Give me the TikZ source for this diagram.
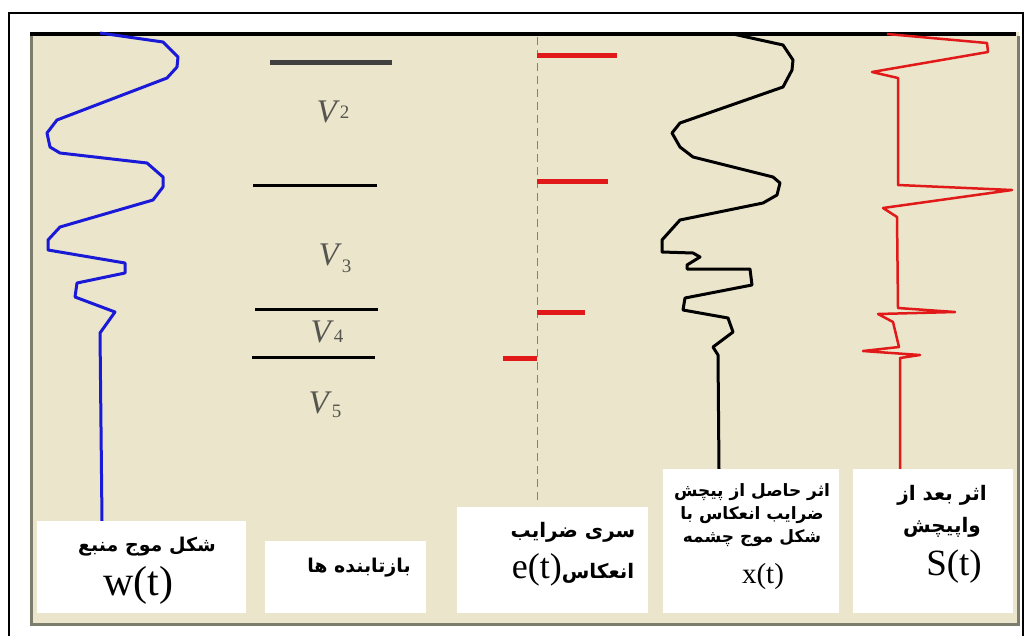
\documentclass[tikz,border=0pt]{standalone}
\usepackage{fontspec}
\setmainfont{Liberation Serif}
\newfontfamily\farsi[Script=Arabic]{DejaVu Sans}
\TeXXeTstate=1
\usetikzlibrary{positioning}
\definecolor{panelbeige}{RGB}{235,229,204}
\definecolor{rimgray}{RGB}{125,125,110}
\definecolor{velgray}{RGB}{85,85,80}
\definecolor{wavblue}{RGB}{25,25,215}
\definecolor{wavred}{RGB}{225,25,25}
\newcommand{\vlay}[2]{\textit{V}\raisebox{#2}{\fontsize{19}{19}\selectfont #1}}
\newcommand{\fa}[1]{\beginR #1\endR}
\begin{document}
\begin{tikzpicture}[x=1pt,y=-1pt,
    trace/.style={line width=3pt,line join=round},
    bar/.style={wavred,line width=5pt},
    layer/.style={line width=3pt},
    vel/.style={velgray,anchor=base,inner sep=0pt,font=\fontsize{33}{33}\selectfont},
    labelbox/.style={fill=white,inner sep=0pt,anchor=north west},
    fatext/.style={align=center,inner sep=0pt,font=\farsi\bfseries\fontsize{18}{23}\selectfont},
    sig/.style={inner sep=0pt}]
\useasboundingbox (0,0) rectangle (1027,635);
% frame and panel
\draw[line width=1.2pt] (9,640) -- (9,13) -- (1023,13) -- (1023,640);
\fill[panelbeige] (30,32) rectangle (1019,625);
\draw[rimgray,line width=3pt] (31,36) -- (31,624) -- (1018,624) -- (1018,36);
\draw[line width=4pt] (30,34) -- (1016,34);
% source wavelet w(t)
\draw[trace,wavblue] (100,33) -- (163,42) -- (178,57) -- (177,67) -- (167,78) -- (57,120)
    -- (47,133) -- (50,147) -- (60,153) -- (147,163) -- (163,177) -- (163,187) -- (153,200)
    -- (60,227) -- (48,240) -- (48,250) -- (125,263) -- (125,273) -- (77,283) -- (75,297)
    -- (115,312) -- (100,333) -- (102,521);
% reflectors
\draw[layer,line width=5pt,black!75] (270,62) -- (392,62);
\draw[layer] (253,185) -- (377,185);
\draw[layer] (255,309) -- (378,309);
\draw[layer] (252,357) -- (375,357);
\node[vel] (v2) at (333,122) {\vlay{2}{4pt}};
\node[vel] (v3) at (335,265) {\vlay{3}{-7pt}};
\node[vel] (v4) at (327,342) {\vlay{4}{0pt}};
\node[vel] (v5) at (325,413) {\vlay{5}{-4pt}};
% reflection series e(t)
\draw[gray,line width=1pt,dash pattern=on 8pt off 5pt] (537,37) -- (537,505);
\draw[bar] (537,55) -- (617,55);
\draw[bar] (537,181) -- (608,181);
\draw[bar] (537,312) -- (585,312);
\draw[bar] (503,358) -- (537,358);
% convolved trace x(t)
\draw[trace] (733,34) -- (783,45) -- (793,60) -- (792,70) -- (783,87) -- (680,123) -- (672,133)
    -- (680,147) -- (693,157) -- (773,177) -- (780,183) -- (777,195) -- (763,203) -- (680,220)
    -- (662,240) -- (662,252) -- (693,253) -- (700,257) -- (687,265) -- (687,269) -- (750,269)
    -- (752,285) -- (685,298) -- (683,310) -- (728,318) -- (733,332) -- (713,347) -- (718,355)
    -- (719,470);
% deconvolved trace S(t)
\draw[trace,wavred,line width=2.5pt] (887,34) -- (987,43) -- (988,52) -- (872,72) -- (898,78)
    -- (898,185) -- (1012,190) -- (883,208) -- (897,217) -- (898,308) -- (955,312) -- (878,314)
    -- (893,322) -- (899,347) -- (863,351) -- (920,355) -- (900,358) -- (900,470);
% label boxes
\node[labelbox,minimum width=209pt,minimum height=92pt] (wbox) at (37,521) {};
\node[labelbox,minimum width=161pt,minimum height=72pt] (rbox) at (265,541) {};
\node[labelbox,minimum width=191pt,minimum height=106pt] (ebox) at (457,507) {};
\node[labelbox,minimum width=176pt,minimum height=144pt] (xbox) at (663,469) {};
\node[labelbox,minimum width=160pt,minimum height=144pt] (sbox) at (853,469) {};
\node[fatext,font=\farsi\bfseries\fontsize{19}{23}\selectfont] (wtitle) at (147,547) {\fa{شکل موج منبع}};
\node[sig,font=\fontsize{42}{42}\selectfont] (wsig) at (138,585) {w(t)};
\node[fatext,font=\farsi\bfseries\fontsize{19}{23}\selectfont] (rtitle) at (359,568) {\fa{بازتابنده ها}};
\node[fatext,font=\farsi\bfseries\fontsize{20}{24}\selectfont] (etitle) at (573,532) {\fa{سری ضرایب}};
\node[sig] (esig) at (573,570) {{\fontsize{36}{36}\selectfont e(t)}{\farsi\bfseries\fontsize{20}{24}\selectfont\fa{انعکاس}}};
\node[fatext,font=\farsi\bfseries\fontsize{17}{23}\selectfont] (xtitle) at (752,515)
    {\fa{اثر حاصل از پیچش}\\\fa{ضرایب انعکاس با}\\\fa{شکل موج چشمه}};
\node[sig,font=\fontsize{29}{29}\selectfont] (xsig) at (763,577) {x(t)};
\node[fatext,font=\farsi\bfseries\fontsize{20}{32}\selectfont] (stitle) at (942,511) {\fa{اثر بعد از}\\\fa{واپیچش}};
\node[sig,font=\fontsize{37}{37}\selectfont] (ssig) at (954,567) {S(t)};
\end{tikzpicture}
\end{document}
